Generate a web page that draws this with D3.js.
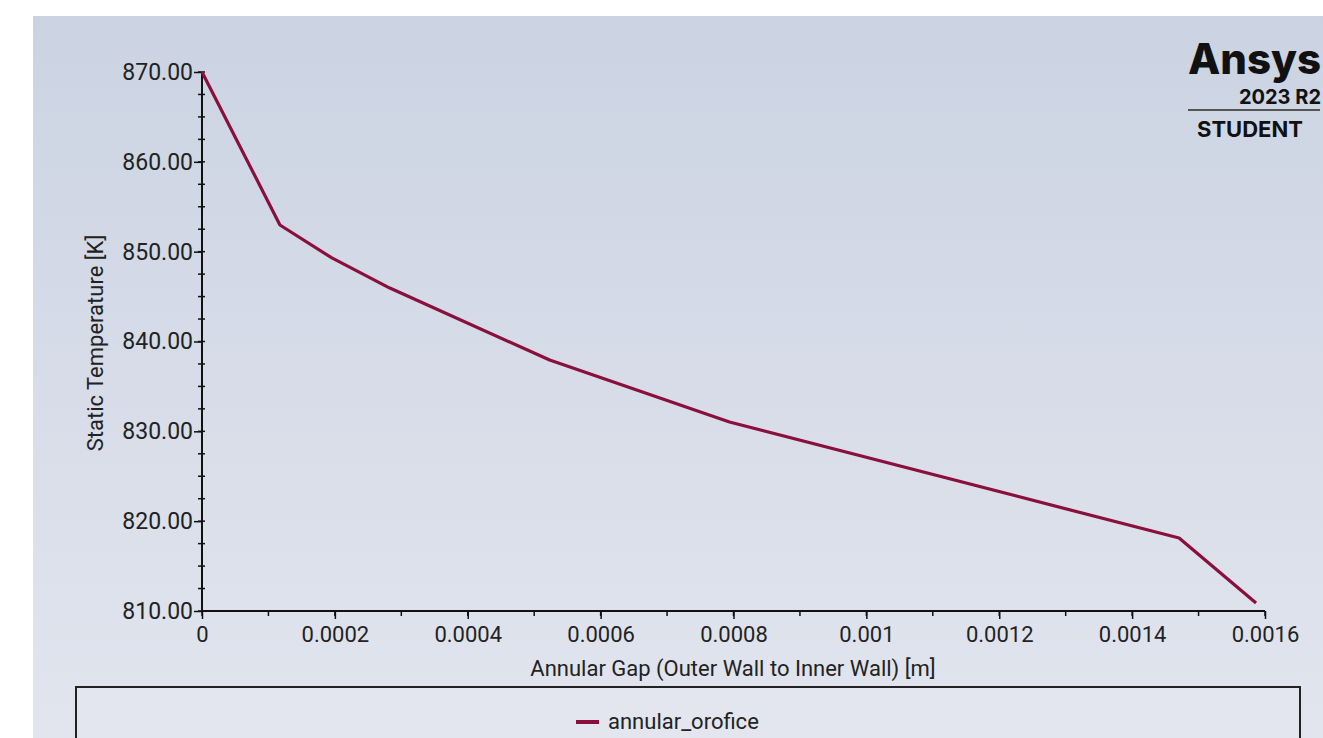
<!DOCTYPE html>
<html>
<head>
<meta charset="utf-8">
<script src="https://cdn.jsdelivr.net/npm/d3@7"></script>
<style>
  body { margin: 0; background: #fff; }
  svg { display: block; font-family: Roboto, "Noto Sans", sans-serif; }
</style>
</head>
<body>
<script>
// data
var gapValues = [0, 0.0001173, 0.0001955, 0.0002827, 0.0005233, 0.000794, 0.0014707, 0.0015865];
var tempValues = [870.0, 852.97, 849.3, 845.95, 837.94, 831.04, 818.12, 810.89];
var xTicks = [0, 0.0002, 0.0004, 0.0006, 0.0008, 0.001, 0.0012, 0.0014, 0.0016];
var xTickLabels = ["0", "0.0002", "0.0004", "0.0006", "0.0008", "0.001", "0.0012", "0.0014", "0.0016"];
var yTicks = [810, 820, 830, 840, 850, 860, 870];
var seriesName = "annular_orofice";

var width = 1323, height = 738;
var lineColour = "#8a0f3c";

var svg = d3.select("body").append("svg")
  .attr("width", width)
  .attr("height", height);

// background gradient of the panel
var grad = svg.append("defs").append("linearGradient")
  .attr("id", "bg").attr("x1", 0).attr("y1", 0).attr("x2", 0).attr("y2", 1);
grad.append("stop").attr("offset", "0%").attr("stop-color", "#cbd3e2");
grad.append("stop").attr("offset", "100%").attr("stop-color", "#e2e5ee");

svg.append("rect")
  .attr("x", 33).attr("y", 16)
  .attr("width", width - 33).attr("height", height - 16)
  .attr("fill", "url(#bg)");

// scales
var xScale = d3.scaleLinear().domain([0, 0.0016]).range([202, 1265]);
var yScale = d3.scaleLinear().domain([810, 870]).range([611, 72]);

// minor ticks first so the major ones sit on top
var xMinor = d3.range(0, 0.00161, 0.0001);
var yMinor = d3.range(810, 870.1, 2.5);

svg.append("g")
  .attr("class", "yMinor")
  .selectAll("line")
  .data(yMinor).enter()
  .append("line")
  .attr("x1", 198).attr("x2", 205)
  .attr("y1", function(d){ return yScale(d); })
  .attr("y2", function(d){ return yScale(d); })
  .attr("stroke", "#111").attr("stroke-width", 1.5);

svg.append("g")
  .attr("class", "xMinor")
  .selectAll("line")
  .data(xMinor).enter()
  .append("line")
  .attr("x1", function(d){ return xScale(d); })
  .attr("x2", function(d){ return xScale(d); })
  .attr("y1", 611).attr("y2", 616)
  .attr("stroke", "#111").attr("stroke-width", 1.5);

// axes
var xAxisCall = d3.axisBottom(xScale)
  .tickValues(xTicks)
  .tickSize(8)
  .tickPadding(7)
  .tickFormat(function(d, i){ return xTickLabels[i]; });
var yAxisCall = d3.axisLeft(yScale)
  .tickValues(yTicks)
  .tickSize(8)
  .tickPadding(1)
  .tickFormat(d3.format(".2f"));

var gx = svg.append("g")
  .attr("transform", "translate(0,611)")
  .call(xAxisCall);
var gy = svg.append("g")
  .attr("transform", "translate(202,0)")
  .call(yAxisCall);

[gx, gy].forEach(function(g){
  g.select(".domain").attr("stroke", "#111").attr("stroke-width", 2);
  g.selectAll(".tick line").attr("stroke", "#111").attr("stroke-width", 1.5);
  g.selectAll(".tick text")
    .attr("fill", "#222")
    .style("font-size", "22px")
    .style("font-family", "Roboto, sans-serif");
});
gy.selectAll(".tick text").style("font-size", "23px");
gx.select(".domain").attr("d", "M202,0H1265");
gy.select(".domain").attr("d", "M0,72V611");

// axis labels
svg.append("text")
  .attr("x", 733).attr("y", 676)
  .attr("text-anchor", "middle")
  .attr("fill", "#222")
  .style("font-size", "22px")
  .text("Annular Gap (Outer Wall to Inner Wall) [m]");

svg.append("text")
  .attr("transform", "rotate(-90)")
  .attr("x", -343).attr("y", 103)
  .attr("text-anchor", "middle")
  .attr("fill", "#222")
  .style("font-size", "22px")
  .text("Static Temperature [K]");

// the line
var line = d3.line()
  .x(function(d){ return xScale(d[0]); })
  .y(function(d){ return yScale(d[1]); });

svg.append("path")
  .datum(d3.zip(gapValues, tempValues))
  .attr("d", line)
  .attr("fill", "none")
  .attr("stroke", lineColour)
  .attr("stroke-width", 3.2)
  .attr("stroke-linejoin", "round");

// legend box
svg.append("rect")
  .attr("x", 76).attr("y", 687)
  .attr("width", 1224).attr("height", 80)
  .attr("fill", "#e3e6ee")
  .attr("stroke", "#222")
  .attr("stroke-width", 2);

svg.append("line")
  .attr("x1", 576).attr("x2", 599)
  .attr("y1", 722).attr("y2", 722)
  .attr("stroke", lineColour)
  .attr("stroke-width", 4);

svg.append("text")
  .attr("x", 608).attr("y", 729)
  .attr("fill", "#222")
  .style("font-size", "22px")
  .text(seriesName);

// Ansys student logo
var logo = svg.append("g").attr("class", "logo");
logo.append("text")
  .attr("x", 1321).attr("y", 74)
  .attr("text-anchor", "end")
  .attr("fill", "#111")
  .style("font-size", "42px")
  .style("font-weight", "800")
  .style("font-family", "Inter, sans-serif")
  .text("Ansys");
logo.append("text")
  .attr("x", 1321).attr("y", 104)
  .attr("text-anchor", "end")
  .attr("fill", "#111")
  .style("font-size", "20px")
  .style("font-weight", "bold")
  .style("font-family", "Inter, sans-serif")
  .text("2023 R2");
logo.append("line")
  .attr("x1", 1188).attr("x2", 1320)
  .attr("y1", 110).attr("y2", 110)
  .attr("stroke", "#555").attr("stroke-width", 2);
logo.append("text")
  .attr("x", 1197).attr("y", 137)
  .attr("fill", "#111")
  .style("font-size", "22px")
  .style("font-weight", "bold")
  .style("font-family", "Inter, sans-serif")
  .text("STUDENT");
</script>
</body>
</html>
